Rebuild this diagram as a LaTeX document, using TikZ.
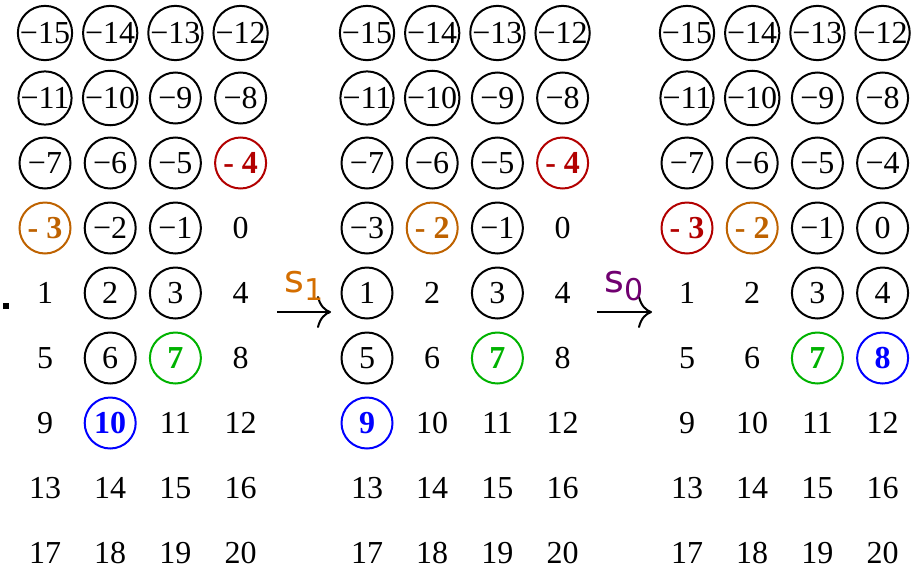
\documentclass[tikz,border=0pt]{standalone}
\usepackage{fontspec}
\setmainfont{Liberation Serif}
\newfontfamily\labfont{DejaVu Sans}
\usetikzlibrary{arrows.meta}
\definecolor{hlred}{RGB}{178,0,0}
\definecolor{hlorange}{RGB}{190,98,0}
\definecolor{hlgreen}{RGB}{0,178,0}
\definecolor{hlblue}{RGB}{0,0,255}
\definecolor{sone}{RGB}{212,110,0}
\definecolor{szero}{RGB}{112,0,112}
\newif\ifhl
\newcommand\cellfont{\fontsize{16}{19}\selectfont}
\newcommand\cellnum[1]{\ifhl\ifnum#1<0 -~\the\numexpr-#1\relax\else#1\fi
  \else\ifnum#1<0 \char"2212\relax\the\numexpr-#1\relax\else#1\fi\fi}
\tikzset{
  nm/.style={circle,minimum size=25.5pt,inner sep=0pt,font=\cellfont},
  rg/.style={nm,draw,line width=1pt},
  hl/.style={rg,font=\bfseries\cellfont,execute at begin node=\hltrue},
  hr/.style={hl,draw=hlred,text=hlred},
  ho/.style={hl,draw=hlorange,text=hlorange},
  hg/.style={hl,draw=hlgreen,text=hlgreen},
  hb/.style={hl,draw=hlblue,text=hlblue},
  arr/.style={line width=1pt,-{To[length=7pt,width=16pt]}},
  lab/.style={inner sep=0pt,anchor=base west,font=\labfont\fontsize{19}{19}\selectfont}
}
% one 4 x 9 block of numbers -15..20
\newcommand\numgrid[3]{%
  \foreach \k [count=\i from 0] in {#3}{%
    \pgfmathtruncatemacro\v{\i-15}
    \node[\k] (#1\i) at ({#2+mod(\i,4)*65.2},{33+int(\i/4)*65}) {\cellnum{\v}};
  }}
\newcommand\sub[1]{\raisebox{-4pt}{\fontsize{15}{15}\selectfont #1}}

\begin{document}
\begin{tikzpicture}[x=.5pt,y=-.5pt]
  \useasboundingbox (0,0) rectangle (920,568);
  \node[fill,inner sep=0pt,minimum size=3pt] (dot) at (6,306) {};
  \numgrid{a}{45}{rg,rg,rg,rg, rg,rg,rg,rg, rg,rg,rg,hr, ho,rg,rg,nm, nm,rg,rg,nm,
    nm,rg,hg,nm, nm,hb,nm,nm, nm,nm,nm,nm, nm,nm,nm,nm}
  \numgrid{b}{367}{rg,rg,rg,rg, rg,rg,rg,rg, rg,rg,rg,hr, rg,ho,rg,nm, rg,nm,rg,nm,
    rg,nm,hg,nm, hb,nm,nm,nm, nm,nm,nm,nm, nm,nm,nm,nm}
  \numgrid{c}{687}{rg,rg,rg,rg, rg,rg,rg,rg, rg,rg,rg,rg, hr,ho,rg,rg, nm,nm,rg,rg,
    nm,nm,hg,hb, nm,nm,nm,nm, nm,nm,nm,nm, nm,nm,nm,nm}
  % the two steps
  \coordinate (p1) at (277,312);
  \coordinate (q1) at (331,312);
  \coordinate (p2) at (597,312);
  \coordinate (q2) at (652,312);
  \draw[arr] (p1) -- (q1);
  \draw[arr] (p2) -- (q2);
  \node[lab,text=sone] (s1) at (284,292) {s\sub{1}};
  \node[lab,text=szero] (s0) at (604,292) {s\sub{0}};
\end{tikzpicture}
\end{document}
